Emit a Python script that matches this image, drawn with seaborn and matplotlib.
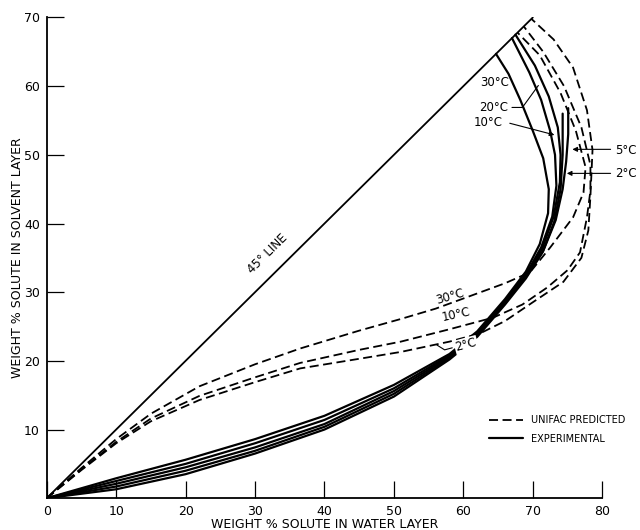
import numpy as np
import pandas as pd
import seaborn as sns
import matplotlib
matplotlib.use('Agg')
import matplotlib.pyplot as plt

# ---- data (weight % solute: water layer x, solvent layer y) ----

# experimental curves
exp_30_x = [0, 10, 20, 30, 40, 50, 58, 62, 66, 69, 71, 72.2, 72.3, 71.5, 70.0, 68.2, 66.5, 64.7]
exp_30_y = [0, 2.9, 5.6, 8.6, 12.0, 16.5, 21.0, 24.3, 29.0, 33.0, 37.0, 41.5, 45.0, 49.5, 53.5, 58.0, 61.8, 64.7]
exp_20_x = [0, 10, 20, 30, 40, 50, 58, 62, 66, 69, 71.2, 72.8, 73.4, 73.2, 72.5, 71.2, 69.5, 67.0]
exp_20_y = [0, 2.5, 5.0, 8.0, 11.4, 16.0, 20.8, 24.1, 28.8, 32.6, 36.5, 41.0, 45.5, 50.0, 53.5, 58.0, 62.0, 67.0]
exp_10_x = [0, 10, 20, 30, 40, 50, 58, 62, 66, 69, 71.3, 73.0, 73.9, 74.0, 73.6, 72.3, 70.3, 67.5]
exp_10_y = [0, 2.1, 4.5, 7.4, 10.8, 15.6, 20.6, 23.9, 28.6, 32.3, 36.2, 41.0, 46.0, 50.0, 54.0, 58.5, 63.0, 67.5]
exp_5_x = [0, 10, 20, 30, 40, 50, 58, 62, 66, 69, 71.5, 73.3, 74.3, 74.8, 75.1, 75.1]
exp_5_y = [0, 1.7, 4.0, 6.9, 10.4, 15.2, 20.4, 23.7, 28.4, 32.2, 36.0, 40.5, 45.0, 49.0, 53.0, 56.8]
exp_2_x = [0, 10, 20, 30, 40, 50, 58, 62, 66, 69, 71.4, 73.1, 74.0, 74.3, 74.3]
exp_2_y = [0, 1.3, 3.5, 6.5, 10.0, 14.8, 20.2, 23.5, 28.2, 32.0, 35.8, 40.3, 45.0, 50.0, 56.0]

# UNIFAC predicted curves
uni_30_x = [0, 5, 10, 15, 22, 30, 36.5, 45, 51, 56, 60.6, 66, 69.6, 72.5, 75.8, 77.3, 77.6, 76.2, 74.0, 71.0, 67.8]
uni_30_y = [0, 4.4, 8.6, 12.3, 16.3, 19.5, 21.8, 24.4, 26.1, 27.6, 29.3, 31.3, 32.9, 36.5, 40.9, 44.5, 48.2, 53.5, 59.0, 64.5, 67.8]
uni_10_x = [0, 5, 10, 15, 22, 30, 36.5, 45, 51, 58, 64.3, 68.5, 72.1, 75.0, 76.8, 77.8, 78.3, 78.3, 77.0, 74.5, 71.5, 68.7]
uni_10_y = [0, 4.2, 8.2, 11.6, 14.9, 17.6, 19.7, 21.6, 22.8, 24.6, 26.3, 28.2, 30.7, 33.2, 35.8, 40.9, 44.8, 48.5, 54.0, 60.0, 65.0, 68.7]
uni_2_x = [0, 5, 10, 15, 22, 30, 36.5, 45, 51, 58, 62.4, 66, 70.1, 74.4, 77.0, 78.0, 78.3, 78.6, 77.8, 75.8, 73.0, 69.8]
uni_2_y = [0, 4.1, 8.0, 11.2, 14.3, 16.9, 18.9, 20.3, 21.3, 22.8, 24.0, 25.8, 28.6, 31.5, 35.0, 39.0, 44.0, 50.7, 56.5, 62.7, 66.8, 69.8]

line45 = [0, 70]

exp_curves = {'30': (exp_30_x, exp_30_y), '20': (exp_20_x, exp_20_y), '10': (exp_10_x, exp_10_y),
              '5': (exp_5_x, exp_5_y), '2': (exp_2_x, exp_2_y)}
uni_curves = {'30': (uni_30_x, uni_30_y), '10': (uni_10_x, uni_10_y), '2': (uni_2_x, uni_2_y)}

# ====
# plot
# ====

sns.set_style('ticks')
plt.rcParams['font.family'] = ['DejaVu Sans']
plt.rcParams['text.color'] = 'k'
plt.rcParams['axes.labelcolor'] = 'k'
fig = plt.figure(figsize=(6.4, 5.3), dpi=100)
ax = fig.add_axes([0.073, 0.060, 0.868, 0.907])

sns.lineplot(x=line45, y=line45, ax=ax, color='k', lw=1.3, sort=False, estimator=None)

for t, (xs, ys) in exp_curves.items():
    sns.lineplot(x=xs, y=ys, ax=ax, color='k', lw=1.6, sort=False, estimator=None)
for t, (xs, ys) in uni_curves.items():
    sns.lineplot(x=xs, y=ys, ax=ax, color='k', lw=1.3, sort=False, estimator=None)
    ax.lines[-1].set_dashes((5, 2.5))

ax.set_xlim(0, 80)
ax.set_ylim(0, 70)
ax.set_xticks(np.arange(0, 81, 10))
ax.set_yticks(np.arange(10, 71, 10))
ax.tick_params(direction='in', length=12, width=0.9, labelsize=9, colors='k', pad=5)
sns.despine(ax=ax)
for s in ['left', 'bottom']:
    ax.spines[s].set_linewidth(1.3)
    ax.spines[s].set_color('k')

ax.set_xlabel('WEIGHT % SOLUTE IN WATER LAYER', fontsize=9, labelpad=0)
ax.set_ylabel('WEIGHT % SOLUTE IN SOLVENT LAYER', fontsize=9, labelpad=0)

# annotations
txt = dict(fontsize=8.5, color='k')
ax.text(31.8, 35.6, '45° LINE', rotation=44.7, ha='center', va='center', **txt)
ax.text(58.1, 29.4, '30°C', rotation=16, ha='center', va='center', **txt)
ax.text(59.0, 26.7, '10°C', rotation=12, ha='center', va='center', **txt)
ax.text(60.4, 22.3, '2°C', rotation=15, ha='center', va='center', zorder=5,
        bbox=dict(facecolor='white', edgecolor='none', pad=0.6), **txt)
ax.plot([56.2, 57.3, 58.4], [22.3, 21.6, 21.9], color='k', lw=0.8, zorder=6)

ax.text(64.5, 60.6, '30°C', ha='center', va='center', **txt)
ax.text(64.3, 56.9, '20°C', ha='center', va='center', **txt)
ax.plot([67.0, 68.5, 70.8], [56.9, 56.9, 60.1], color='k', lw=0.8)
ax.text(63.6, 54.7, '10°C', ha='center', va='center', **txt)
ax.annotate('', xy=(73.5, 52.8), xytext=(66.3, 54.7),
            arrowprops=dict(arrowstyle='-|>', color='k', lw=0.8, mutation_scale=7))
ax.text(83.4, 50.7, '5°C', ha='center', va='center', **txt)
ax.annotate('', xy=(75.3, 50.8), xytext=(81.6, 50.8), annotation_clip=False,
            arrowprops=dict(arrowstyle='-|>', color='k', lw=0.8, mutation_scale=7))
ax.text(83.4, 47.3, '2°C', ha='center', va='center', **txt)
ax.annotate('', xy=(74.5, 47.3), xytext=(81.6, 47.3), annotation_clip=False,
            arrowprops=dict(arrowstyle='-|>', color='k', lw=0.8, mutation_scale=7))

# legend
h_uni = ax.lines[len(exp_curves) + 1]
h_exp = ax.lines[1]
ax.legend([h_uni, h_exp], ['UNIFAC PREDICTED', 'EXPERIMENTAL'], loc='lower left',
          bbox_to_anchor=(0.79, 0.105), frameon=False, fontsize=7, handlelength=3.4,
          handletextpad=0.9, labelspacing=0.9, borderaxespad=0)

fig.savefig('out.png', dpi=100)
